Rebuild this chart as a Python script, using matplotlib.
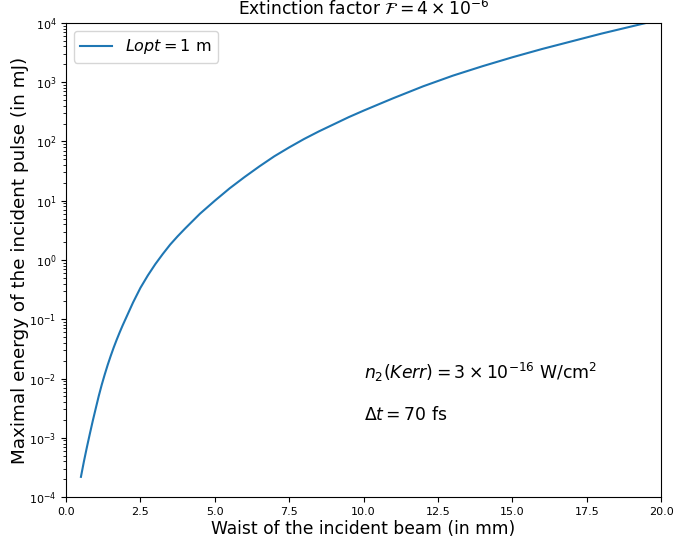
import numpy as np
import matplotlib
matplotlib.use('Agg')
import matplotlib.pyplot as plt

# waist (mm) and max pulse energy (mJ)
waist = [0.5, 0.6, 0.7, 0.8, 0.9, 1.0, 1.1, 1.2, 1.3, 1.4, 1.5, 1.6, 1.7, 1.8, 1.9,
         2.0, 2.25, 2.5, 2.75, 3.0, 3.25, 3.5, 3.75, 4.0, 4.5, 5.0, 5.5, 6.0, 6.5,
         7.0, 7.5, 8.0, 8.5, 9.0, 9.5, 10.0, 10.5, 11.0, 11.5, 12.0, 12.5, 13.0,
         13.5, 14.0, 14.5, 15.0, 15.5, 16.0, 16.5, 17.0, 17.5, 18.0, 18.5, 19.0, 19.5]
energy = [2.19e-4, 3.98e-4, 6.92e-4, 1.17e-3, 1.95e-3, 3.16e-3, 5.09e-3, 7.87e-3,
          0.0117, 0.0170, 0.0240, 0.0332, 0.0449, 0.0597, 0.0783,
          0.101, 0.191, 0.339, 0.550, 0.851, 1.26, 1.82, 2.51, 3.39, 6.03,
          10.0, 16.2, 25.1, 38.0, 56.2, 79.4, 110.0, 148.0, 195.0, 257.0,
          331.0, 422.0, 537.0, 676.0, 851.0, 1047.0, 1288.0, 1549.0, 1862.0,
          2213.0, 2630.0, 3090.0, 3631.0, 4217.0, 4898.0, 5689.0, 6607.0,
          7586.0, 8710.0, 10000.0]

fig = plt.figure(figsize=(6.74, 5.45), dpi=100)
ax = fig.add_axes([0.098, 0.088, 0.883, 0.870])

ax.plot(waist, energy, color='#1f77b4', lw=1.5, label=r'$Lopt = 1$ m')
ax.set_yscale('log')
ax.set_xlim(0, 20)
ax.set_ylim(1e-4, 1e4)

ax.set_title(r'Extinction factor $\mathcal{F} = 4\times10^{-6}$', fontsize=12.3)
ax.set_xlabel('Waist of the incident beam (in mm)', fontsize=12.3, labelpad=2)
ax.set_ylabel('Maximal energy of the incident pulse (in mJ)', fontsize=13.2, labelpad=0)
ax.tick_params(labelsize=8)

ax.text(10, 1e-2, r'$n_2(Kerr) = 3\times10^{-16}$ W/cm$^2$', fontsize=12.4)
ax.text(10, 2e-3, r'$\Delta t = 70$ fs', fontsize=12.4)

ax.legend(loc='upper left', fontsize=11.5)

fig.savefig('out.png', dpi=100)
